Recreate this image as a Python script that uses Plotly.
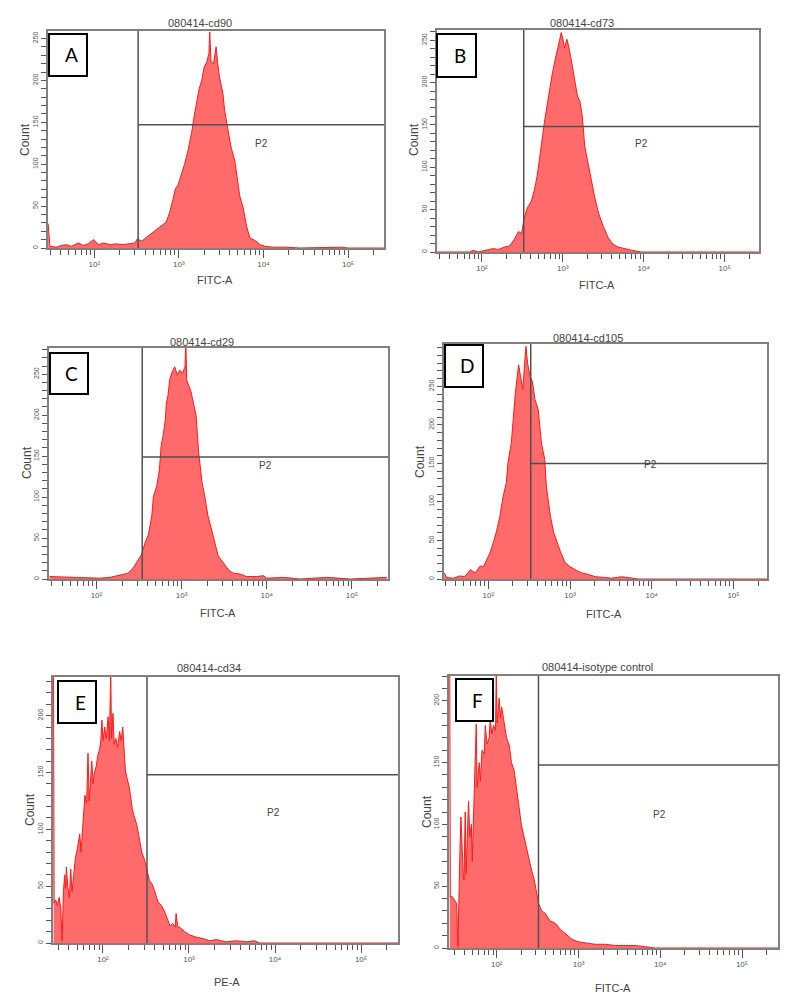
import numpy as np
import plotly.graph_objects as go

W, H = 795, 1008          # browser window
BODY = 8                   # default page margin around the plot div
FW, FH = W - 2 * BODY, H - 2 * BODY

# ---------------- data ----------------
panel_letters = ["A", "B", "C", "D", "E", "F"]
panel_titles = ["080414-cd90", "080414-cd73", "080414-cd29",
                "080414-cd105", "080414-cd34", "080414-isotype control"]
x_labels = ["FITC-A", "FITC-A", "FITC-A", "FITC-A", "PE-A", "FITC-A"]

# histogram outlines: log10(fluorescence) and event counts
a_log = [1.455, 1.475, 1.55, 1.61, 1.67, 1.73, 1.81, 1.87, 1.93, 1.99,
         2.05, 2.11, 2.19, 2.26, 2.34, 2.42, 2.48, 2.51, 2.56, 2.62,
         2.68, 2.74, 2.80, 2.85, 2.89, 2.93, 2.96, 2.99, 3.03, 3.07,
         3.11, 3.15, 3.18, 3.21, 3.24, 3.27, 3.30, 3.33, 3.355, 3.365,
         3.38, 3.41, 3.44, 3.46, 3.48, 3.52, 3.54, 3.58, 3.62, 3.66,
         3.69, 3.72, 3.76, 3.80, 3.84, 3.90, 3.96, 4.02, 4.11, 4.27,
         4.43, 4.92, 5.00, 5.42]
a_cnt = [29, 2, 1, 3, 4, 2, 6, 3, 5, 10,
         4, 6, 4, 5, 4, 5, 6, 11, 8, 13,
         18, 23, 27, 31, 42, 58, 71, 75, 87, 101,
         117, 137, 157, 173, 190, 200, 216, 222, 232, 258,
         222, 220, 240, 220, 204, 185, 165, 141, 119, 105,
         81, 62, 48, 26, 12, 9, 4, 2, 1, 1,
         0, 1, 0, 0]

b_log = [1.44, 1.85, 1.89, 1.95, 2.14, 2.20, 2.28, 2.34, 2.40, 2.45,
         2.49, 2.52, 2.56, 2.61, 2.65, 2.68, 2.71, 2.74, 2.77, 2.81,
         2.84, 2.87, 2.90, 2.93, 2.95, 2.98, 3.00, 3.02, 3.05, 3.08,
         3.11, 3.15, 3.18, 3.21, 3.24, 3.27, 3.31, 3.35, 3.39, 3.44,
         3.50, 3.56, 3.62, 3.68, 3.76, 3.85, 3.97, 5.42]
b_cnt = [0, 0, 2, 0, 4, 3, 6, 7, 15, 24,
         22, 40, 52, 60, 74, 89, 109, 133, 152, 176,
         196, 211, 225, 239, 245, 259, 251, 241, 251, 239,
         223, 200, 184, 178, 160, 125, 105, 85, 66, 46,
         30, 17, 9, 6, 4, 2, 0, 0]

c_log = [1.45, 1.92, 2.04, 2.16, 2.24, 2.31, 2.37, 2.43, 2.49, 2.53,
         2.57, 2.61, 2.65, 2.67, 2.71, 2.74, 2.76, 2.78, 2.81, 2.82,
         2.84, 2.86, 2.89, 2.92, 2.95, 2.98, 3.01, 3.04, 3.05, 3.06,
         3.11, 3.14, 3.17, 3.20, 3.24, 3.27, 3.31, 3.35, 3.39, 3.43,
         3.49, 3.55, 3.61, 3.69, 3.76, 3.88, 3.96, 4.00, 4.20, 4.39,
         4.71, 4.82, 4.98, 5.41]
c_cnt = [3, 1, 1, 2, 4, 5, 7, 13, 23, 30,
         44, 54, 77, 101, 114, 134, 163, 173, 195, 214,
         224, 243, 253, 259, 249, 255, 251, 259, 290, 243,
         229, 212, 200, 155, 118, 102, 77, 61, 44, 28,
         20, 11, 7, 6, 3, 3, 4, 1, 2, 0,
         2, 1, 0, 2]

d_log = [1.46, 1.49, 1.57, 1.65, 1.71, 1.78, 1.84, 1.90, 1.94, 1.98,
         2.02, 2.06, 2.10, 2.14, 2.18, 2.22, 2.24, 2.28, 2.31, 2.33,
         2.37, 2.40, 2.42, 2.46, 2.48, 2.51, 2.54, 2.57, 2.61, 2.65,
         2.69, 2.71, 2.76, 2.80, 2.84, 2.88, 2.94, 3.00, 3.08, 3.14,
         3.22, 3.31, 3.43, 3.51, 3.63, 3.71, 3.84, 5.42]
d_cnt = [8, 2, 1, 4, 3, 12, 8, 17, 16, 25,
         34, 47, 62, 81, 107, 125, 151, 176, 215, 241,
         278, 259, 246, 302, 280, 263, 256, 233, 220, 176,
         155, 120, 81, 60, 47, 36, 21, 16, 11, 8,
         6, 3, 2, 1, 3, 2, 0, 0]

e_log = [1.425, 1.432, 1.45, 1.47, 1.49, 1.51, 1.525, 1.54, 1.555, 1.565,
         1.575, 1.59, 1.61, 1.625, 1.64, 1.66, 1.68, 1.70, 1.715, 1.73,
         1.745, 1.76, 1.775, 1.79, 1.81, 1.826, 1.84, 1.855, 1.87, 1.885,
         1.90, 1.92, 1.94, 1.96, 1.975, 1.988, 2.00, 2.02, 2.04, 2.06,
         2.075, 2.09, 2.10, 2.116, 2.13, 2.15, 2.17, 2.194, 2.21, 2.23,
         2.245, 2.26, 2.28, 2.30, 2.32, 2.34, 2.36, 2.39, 2.42, 2.45,
         2.48, 2.51, 2.54, 2.57, 2.60, 2.64, 2.68, 2.72, 2.76, 2.78,
         2.81, 2.84, 2.85, 2.87, 2.89, 2.95, 3.01, 3.09, 3.16, 3.24,
         3.32, 3.43, 3.55, 3.67, 3.76, 3.82, 5.43]
e_cnt = [240, 35, 38, 33, 40, 30, 2, 45, 60, 48,
         67, 50, 40, 65, 45, 62, 75, 82, 90, 96,
         80, 100, 120, 130, 123, 167, 125, 143, 160, 140,
         150, 155, 165, 170, 178, 196, 178, 190, 180, 199,
         178, 240, 180, 202, 175, 180, 172, 186, 178, 190,
         165, 152, 145, 139, 130, 118, 112, 105, 93, 80,
         74, 64, 55, 52, 46, 36, 33, 27, 19, 15,
         17, 14, 26, 14, 14, 10, 7, 5, 4, 2,
         3, 1, 2, 1, 2, 0, 0]

f_log = [1.425, 1.432, 1.45, 1.47, 1.49, 1.51, 1.525, 1.54, 1.55, 1.562,
         1.575, 1.59, 1.60, 1.614, 1.625, 1.64, 1.655, 1.67, 1.69, 1.70,
         1.716, 1.73, 1.749, 1.76, 1.786, 1.80, 1.82, 1.847, 1.86, 1.88,
         1.908, 1.92, 1.94, 1.96, 1.985, 1.994, 2.005, 2.03, 2.045, 2.06,
         2.08, 2.10, 2.12, 2.153, 2.18, 2.214, 2.24, 2.275, 2.30, 2.337,
         2.37, 2.398, 2.43, 2.459, 2.49, 2.512, 2.55, 2.594, 2.65, 2.716,
         2.78, 2.838, 2.92, 3.00, 3.08, 3.20, 3.33, 3.45, 3.57, 3.69,
         3.82, 3.94, 5.44]
f_cnt = [230, 41, 42, 40, 38, 36, 1, 70, 79, 106,
         75, 60, 55, 110, 60, 88, 119, 90, 100, 70,
         106, 120, 181, 130, 150, 135, 160, 157, 180, 165,
         170, 185, 173, 180, 176, 225, 182, 202, 186, 195,
         186, 180, 170, 164, 150, 143, 128, 113, 100, 90,
         80, 71, 62, 55, 44, 36, 30, 28, 22, 20,
         15, 12, 7, 5, 4, 3, 3, 2, 2, 2,
         1, 0, 0]

# gates (P2)
gate_x = [330, 328, 345, 330, 325, 324]
gate_y = [147, 148, 149, 150, 148, 148]
p2_log = [3.98, 3.97, 3.99, 3.98, 3.98, 3.99]
p2_cnt = [125, 128, 138, 148, 115, 108]

# axis scales
x_range_log = [(1.453, 5.425), (1.444, 5.424), (1.443, 5.424),
               (1.457, 5.41), (1.419, 5.43), (1.416, 5.44)]
y_max = [259, 262, 282, 305, 234, 220]
y_major = [[0, 50, 100, 150, 200, 250]] * 4 + [[0, 50, 100, 150, 200]] * 2
y_minor = list(range(0, 320, 10))
x_major = [100, 1000, 10000, 100000]
x_major_text = ["10²", "10³", "10⁴", "10⁵"]
x_minor = [k * 10 ** d for d in range(1, 6) for k in range(2, 10)]

series_log = [a_log, b_log, c_log, d_log, e_log, f_log]
series_cnt = [a_cnt, b_cnt, c_cnt, d_cnt, e_cnt, f_cnt]

# ---------------- layout positions (window pixels) ----------------
plot_px = [(48, 31, 384, 248), (437, 30, 759, 252), (49, 348, 388, 579),
           (444, 344, 767, 579), (53, 677, 398, 943), (449, 676, 778, 948)]
title_px = [(200, 23), (582, 23), (202, 342), (588, 338), (209, 668), (597, 667)]
count_px = [(25, 140), (414, 140), (27, 463), (420, 462), (30, 810), (427, 812)]
xlab_px = [(215, 280), (597, 285), (218, 613), (604, 614), (227, 982), (613, 988)]
box_px = [(49, 34, 87, 76), (437, 34, 476, 77), (50, 353, 88, 394),
          (445, 345, 483, 387), (58, 681, 96, 723), (456, 679, 493, 721)]


def px(x):
    return (x - BODY) / FW


def py(y):
    return 1 - (y - BODY) / FH


TXT = "#444444"
TICK = "#555555"
FONT = "Liberation Sans, Arial, sans-serif"

fig = go.Figure()
layout = dict(width=FW, height=FH, margin=dict(l=0, r=0, t=0, b=0),
              paper_bgcolor="white", plot_bgcolor="white", showlegend=False,
              shapes=[], annotations=[], font=dict(family=FONT, color=TXT))

for i in range(6):
    sx = "" if i == 0 else str(i + 1)
    xr, yr = "x" + sx, "y" + sx
    x0, y0, x1, y1 = plot_px[i]
    lo, hi = x_range_log[i]

    fig.add_trace(go.Scatter(
        x=10 ** np.array(series_log[i]), y=series_cnt[i], mode="lines",
        line=dict(color="#ff1a1a", width=1), fill="tozeroy",
        fillcolor="#ff6b6b", xaxis=xr, yaxis=yr, hoverinfo="skip"))
    # gate lines
    fig.add_trace(go.Scatter(
        x=[gate_x[i], gate_x[i]], y=[0, y_max[i] * 1.1], mode="lines",
        line=dict(color="#505050", width=1.5), xaxis=xr, yaxis=yr, hoverinfo="skip"))
    fig.add_trace(go.Scatter(
        x=[gate_x[i], 10 ** (hi + 0.1)], y=[gate_y[i], gate_y[i]], mode="lines",
        line=dict(color="#505050", width=1.5), xaxis=xr, yaxis=yr, hoverinfo="skip"))

    layout["xaxis" + sx] = dict(
        domain=[px(x0), px(x1)], anchor=yr, type="log", range=[lo, hi],
        showgrid=False, zeroline=False, showline=True, mirror=True,
        linecolor="#808080", linewidth=1.5,
        tickmode="array", tickvals=x_major, ticktext=x_major_text,
        ticks="outside", ticklen=8, tickcolor=TICK, tickwidth=1,
        tickfont=dict(size=8, color=TICK),
        minor=dict(tickmode="array", tickvals=x_minor, ticks="outside",
                   ticklen=5, tickcolor=TICK, tickwidth=1, showgrid=False))
    layout["yaxis" + sx] = dict(
        domain=[py(y1), py(y0)], anchor=xr, range=[0, y_max[i]],
        showgrid=False, zeroline=False, showline=True, mirror=True,
        linecolor="#808080", linewidth=1.5,
        tickmode="array", tickvals=y_major[i], tickangle=-90,
        ticks="outside", ticklen=5, tickcolor=TICK, tickwidth=1,
        tickfont=dict(size=7, color=TICK),
        minor=dict(tickmode="array", tickvals=y_minor, ticks="outside",
                   ticklen=5, tickcolor=TICK, tickwidth=1, showgrid=False))

    # P2 label (axis-domain coordinates)
    layout["annotations"].append(dict(
        xref=xr + " domain", yref=yr, x=(p2_log[i] - lo) / (hi - lo), y=p2_cnt[i],
        xanchor="center", yanchor="middle",
        text="P2", showarrow=False, font=dict(size=10, color=TXT)))
    # title
    tx, ty = title_px[i]
    layout["annotations"].append(dict(
        xref="paper", yref="paper", x=px(tx), y=py(ty), text=panel_titles[i],
        xanchor="center", yanchor="middle",
        showarrow=False, font=dict(size=11, color=TXT)))
    # Count
    cx, cy = count_px[i]
    layout["annotations"].append(dict(
        xref="paper", yref="paper", x=px(cx), y=py(cy), text="Count",
        xanchor="center", yanchor="middle",
        textangle=-90, showarrow=False, font=dict(size=12, color=TXT)))
    # x label
    lx, ly = xlab_px[i]
    layout["annotations"].append(dict(
        xref="paper", yref="paper", x=px(lx), y=py(ly), text=x_labels[i],
        xanchor="center", yanchor="middle",
        showarrow=False, font=dict(size=11, color=TXT)))
    # letter box
    bx0, by0, bx1, by1 = box_px[i]
    layout["shapes"].append(dict(
        type="rect", xref="paper", yref="paper", x0=px(bx0), x1=px(bx1),
        y0=py(by1), y1=py(by0), line=dict(color="black", width=2),
        fillcolor="white", layer="above"))
    layout["annotations"].append(dict(
        xref="paper", yref="paper", x=px((bx0 + bx1) / 2 + 3), y=py((by0 + by1) / 2),
        xanchor="center", yanchor="middle",
        text=panel_letters[i], showarrow=False,
        font=dict(size=19, color="black", family="Lato, Open Sans, sans-serif")))

fig.update_layout(**layout)
fig.write_html("out.html")
